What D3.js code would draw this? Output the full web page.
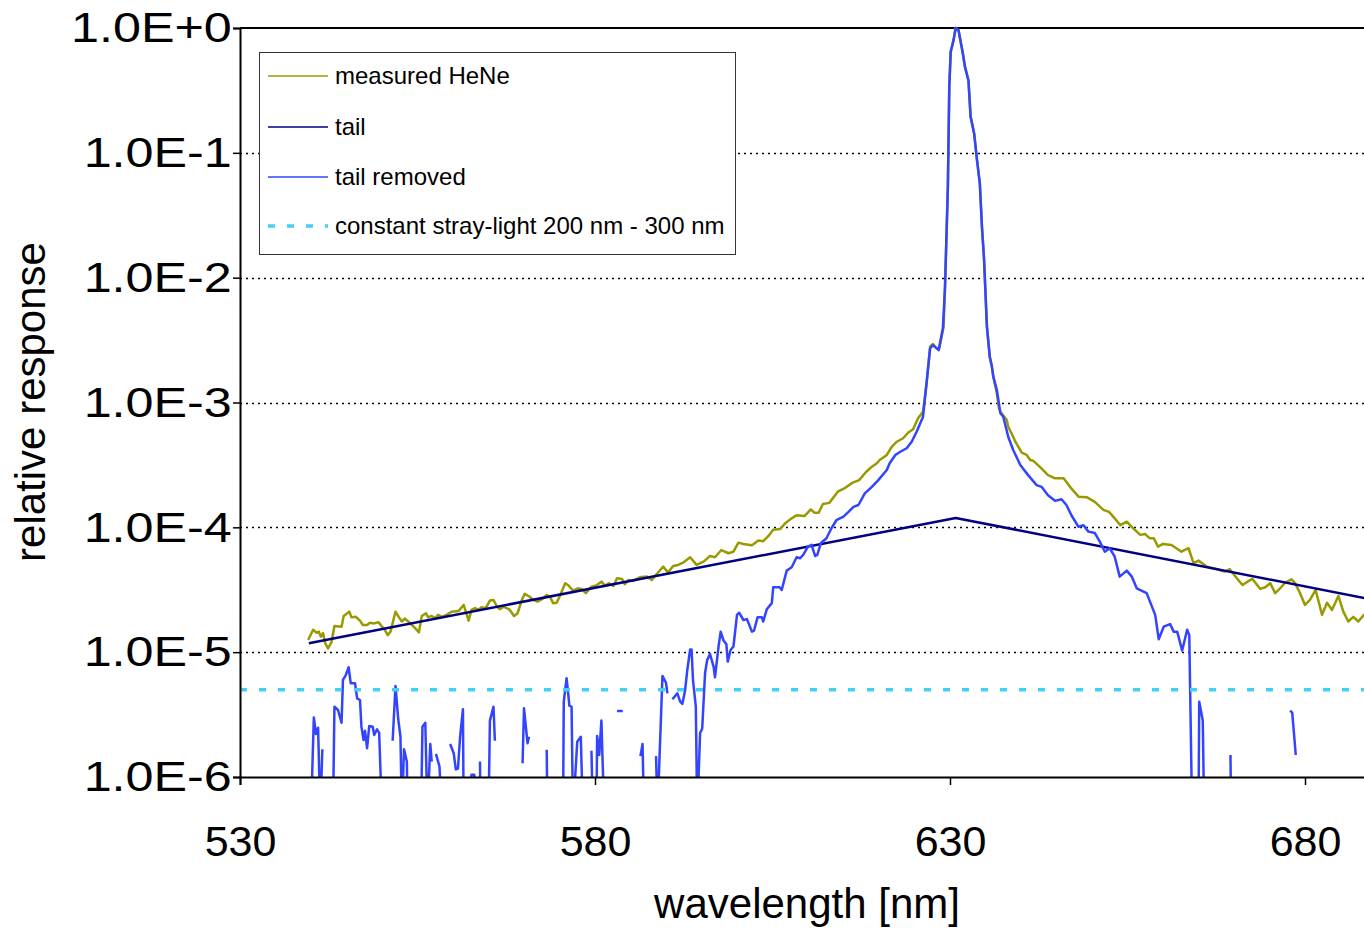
<!DOCTYPE html>
<html>
<head>
<meta charset="utf-8">
<script src="https://cdn.jsdelivr.net/npm/d3@7"></script>
<style>
    html, body { margin: 0; padding: 0; background: #fff; }
    svg { display: block; font-family: "Liberation Sans", Arial, sans-serif; }
</style>
</head>
<body>
<svg id="chart" width="1364" height="929"></svg>
<script>

    // measured HeNe line
    var heneWl = [
        539.6, 540.3, 540.8, 541.1, 541.4, 541.7, 542.0, 542.4, 542.9, 543.3, 544.3, 544.6, 545.4, 545.7, 546.3, 546.9,
        547.3, 547.9, 548.3, 548.9, 549.5, 550.0, 550.4, 550.8, 551.2, 551.9, 552.4, 552.8, 553.2, 553.9, 554.6, 555.2,
        555.6, 556.2, 556.5, 557.0, 557.5, 557.9, 558.4, 559.1, 559.8, 560.8, 561.5, 562.2, 562.6, 563.1, 563.6, 564.0,
        564.6, 565.2, 565.7, 566.2, 566.6, 567.1, 567.6, 568.0, 568.6, 569.1, 569.7, 570.1, 570.8, 571.3, 571.9, 572.6,
        573.2, 573.7, 574.1, 574.6, 575.0, 575.8, 576.2, 576.9, 577.6, 578.1, 578.7, 579.5, 580.2, 580.9, 581.4, 581.9,
        582.6, 583.1, 583.8, 584.2, 584.7, 585.4, 586.3, 587.3, 588.0, 588.7, 589.6, 590.3, 591.0, 591.7, 592.4, 593.4,
        594.3, 595.3, 596.2, 596.9, 597.8, 598.8, 599.5, 600.2, 600.9, 602.1, 603.0, 603.7, 604.4, 605.1, 606.1, 606.8,
        607.7, 608.4, 609.1, 609.5, 610.4, 610.9, 611.5, 612.1, 613.0, 614.2, 615.1, 616.3, 617.2, 618.2, 618.9, 619.7,
        620.1, 621.1, 621.8, 622.5, 623.4, 624.1, 624.8, 625.5, 626.2, 626.7, 627.2, 627.6, 628.1, 628.5, 629.1, 629.3,
        629.7, 629.9, 630.1, 630.5, 630.8, 631.2, 631.8, 632.1, 632.6, 632.9, 633.4, 633.8, 634.2, 634.5, 634.8, 635.2,
        635.6, 635.9, 636.1, 636.6, 636.9, 637.1, 638.0, 638.2, 638.9, 639.2, 639.9, 640.1, 640.8, 641.3, 641.7, 642.7,
        643.8, 644.8, 646.0, 646.9, 648.1, 649.3, 650.4, 651.6, 652.4, 653.2, 654.0, 654.9, 655.8, 656.8, 657.5, 658.1,
        658.7, 659.3, 660.0, 661.2, 662.6, 663.6, 664.3, 665.0, 666.2, 667.6, 668.7, 669.4, 670.4, 671.2, 671.9, 672.6,
        673.7, 674.4, 675.1, 675.8, 676.5, 677.2, 678.1, 678.6, 679.3, 680.0, 680.7, 681.5, 682.4, 683.1, 683.8, 684.7,
        685.4, 686.1, 686.8, 687.5, 688.3, 689.0
    ];
    var heneVal = [
        1.25e-5, 1.51e-5, 1.43e-5, 1.46e-5, 1.33e-5, 1.42e-5, 1.18e-5, 1.07e-5, 1.21e-5, 1.62e-5, 1.60e-5, 1.95e-5, 2.11e-5, 1.90e-5, 1.92e-5, 1.79e-5,
        1.65e-5, 1.65e-5, 1.72e-5, 1.70e-5, 1.74e-5, 1.60e-5, 1.51e-5, 1.37e-5, 1.46e-5, 2.11e-5, 1.90e-5, 1.76e-5, 1.86e-5, 1.72e-5, 1.57e-5, 1.44e-5,
        1.95e-5, 2.05e-5, 1.90e-5, 1.95e-5, 1.87e-5, 1.99e-5, 1.92e-5, 1.99e-5, 2.11e-5, 2.14e-5, 2.39e-5, 1.79e-5, 2.18e-5, 2.25e-5, 2.18e-5, 2.29e-5,
        2.25e-5, 2.59e-5, 2.62e-5, 2.31e-5, 2.21e-5, 2.31e-5, 2.25e-5, 2.18e-5, 1.95e-5, 2.05e-5, 2.62e-5, 2.93e-5, 2.78e-5, 2.62e-5, 2.54e-5, 2.67e-5,
        2.87e-5, 2.75e-5, 2.47e-5, 2.49e-5, 2.78e-5, 3.57e-5, 3.45e-5, 3.11e-5, 3.25e-5, 3.21e-5, 2.97e-5, 3.35e-5, 3.43e-5, 3.67e-5, 3.41e-5, 3.57e-5,
        3.39e-5, 3.91e-5, 3.86e-5, 3.50e-5, 3.79e-5, 3.74e-5, 3.98e-5, 4.03e-5, 3.79e-5, 4.23e-5, 4.84e-5, 4.34e-5, 4.90e-5, 5.00e-5, 5.21e-5, 5.76e-5,
        5.00e-5, 5.31e-5, 5.90e-5, 5.76e-5, 6.58e-5, 6.20e-5, 6.38e-5, 7.54e-5, 7.36e-5, 7.18e-5, 7.83e-5, 7.74e-5, 8.49e-5, 9.58e-5, 9.70e-5, 1.08e-4,
        1.18e-4, 1.25e-4, 1.24e-4, 1.23e-4, 1.39e-4, 1.31e-4, 1.31e-4, 1.54e-4, 1.57e-4, 1.93e-4, 2.05e-4, 2.28e-4, 2.39e-4, 2.79e-4, 3.03e-4, 3.26e-4,
        3.46e-4, 3.80e-4, 4.42e-4, 4.85e-4, 5.17e-4, 5.72e-4, 6.10e-4, 7.47e-4, 8.44e-4, 1.42e-3, 2.80e-3, 2.94e-3, 2.72e-3, 2.72e-3, 4.05e-3, 8.48e-3,
        5.36e-2, 0.339, 0.645, 0.80, 1.0, 0.96, 0.63, 0.49, 0.38, 0.195, 0.143, 8.77e-2, 5.70e-2, 2.56e-2, 1.39e-2, 4.05e-3,
        2.33e-3, 1.94e-3, 1.61e-3, 1.18e-3, 8.97e-4, 8.44e-4, 7.24e-4, 6.40e-4, 5.32e-4, 4.85e-4, 4.16e-4, 3.96e-4, 3.80e-4, 3.46e-4, 3.42e-4, 3.04e-4,
        2.62e-4, 2.47e-4, 2.47e-4, 2.11e-4, 1.76e-4, 1.74e-4, 1.60e-4, 1.38e-4, 1.33e-4, 1.18e-4, 1.04e-4, 1.11e-4, 9.83e-5, 8.70e-5, 8.84e-5, 8.18e-5,
        8.18e-5, 7.00e-5, 7.36e-5, 7.23e-5, 6.38e-5, 6.80e-5, 5.16e-5, 5.41e-5, 4.84e-5, 4.62e-5, 4.42e-5, 4.62e-5, 3.91e-5, 3.45e-5, 3.67e-5, 3.86e-5,
        3.21e-5, 3.31e-5, 3.57e-5, 2.97e-5, 3.25e-5, 3.60e-5, 3.84e-5, 3.57e-5, 2.97e-5, 2.39e-5, 2.62e-5, 3.15e-5, 1.99e-5, 2.49e-5, 2.18e-5, 2.82e-5,
        2.11e-5, 1.76e-5, 1.92e-5, 1.76e-5, 1.99e-5, 1.85e-5
    ];

    // fitted tail, straight in log space
    var tailWl  = [539.7, 630.8, 690];
    var tailVal = [1.18e-5, 1.19e-4, 2.6e-5];

    // tail removed; null = negative (not drawn), 5e-7 = below the axis
    var removedWl = [
        540.0, 540.4, 540.7, 541.0, 541.3, 541.6, 541.9, 543.1, 543.3, 543.8, 544.3, 544.5, 544.9, 545.3, 545.6, 546.2,
        546.5, 546.9, 547.1, 547.4, 547.6, 547.9, 548.2, 548.7, 548.9, 549.3, 549.6, 550.0, 550.5, 551.5, 551.9, 552.3,
        552.6, 552.8, 553.1, 553.5, 553.6, 554.0, 555.5, 555.7, 556.1, 556.4, 556.8, 557.0, 557.3, 557.6, 558.1, 558.4,
        558.8, 559.6, 560.1, 560.4, 560.7, 561.0, 561.4, 561.5, 562.0, 562.4, 562.6, 563.0, 563.2, 563.5, 563.8, 563.9,
        564.4, 565.0, 565.2, 565.7, 565.9, 566.5, 569.8, 570.0, 570.5, 570.7, 571.5, 573.2, 573.3, 574.0, 575.5, 575.6,
        576.0, 576.4, 576.7, 576.9, 577.5, 578.0, 578.3, 579.0, 579.5, 579.7, 580.0, 580.2, 580.3, 580.6, 580.9, 581.3,
        582.0, 583.1, 583.9, 584.5, 586.4, 586.7, 586.9, 587.5, 588.6, 588.8, 589.5, 590.0, 590.2, 590.7, 590.9, 591.6,
        592.0, 592.3, 592.7, 593.0, 593.4, 593.6, 593.8, 594.2, 594.4, 594.8, 595.1, 595.5, 595.8, 596.2, 596.7, 596.9,
        597.4, 597.7, 598.1, 598.5, 598.7, 599.1, 599.5, 600.0, 600.3, 600.9, 601.4, 602.1, 602.4, 602.9, 603.5, 603.7,
        604.2, 604.9, 605.1, 606.0, 606.3, 607.0, 607.7, 608.4, 608.9, 609.3, 610.0, 610.5, 611.0, 611.3, 611.8, 612.6,
        613.3, 614.0, 615.0, 615.7, 616.4, 617.1, 618.0, 619.0, 619.9, 621.1, 621.5, 622.3, 623.0, 623.9, 624.6, 625.3,
        626.2, 626.6, 627.2, 627.6, 628.4, 629.0, 629.3, 629.7, 629.9, 630.1, 630.5, 630.8, 631.2, 631.8, 632.1, 632.6,
        632.9, 633.4, 633.8, 634.2, 634.5, 634.8, 635.2, 635.6, 635.9, 636.1, 636.6, 637.1, 637.5, 638.2, 638.9, 639.9,
        641.0, 642.2, 642.9, 643.8, 644.8, 645.7, 646.4, 647.1, 648.1, 648.8, 649.5, 650.4, 651.1, 651.8, 652.5, 653.2,
        653.9, 654.9, 655.6, 656.3, 657.7, 658.9, 659.4, 660.1, 661.0, 661.5, 662.0, 662.7, 663.4, 663.7, 664.1, 665.0,
        665.1, 665.6, 665.8, 666.5, 669.5, 669.6, 670.0, 677.9, 678.2, 678.7
    ];
    var removedVal = [
        5e-7, 3.0e-6, 2.21e-6, 2.48e-6, 5e-7, 1.67e-6, null, 5e-7, 3.66e-6, 3.44e-6, 2.72e-6, 5.99e-6, 6.56e-6, 7.57e-6, 5.63e-6, 5.63e-6,
        4.27e-6, 4.14e-6, 2.53e-6, 1.98e-6, 2.35e-6, 1.70e-6, 2.56e-6, 2.53e-6, 2.17e-6, 2.41e-6, 2.26e-6, 5e-7, null, 1.95e-6, 5.36e-6, 2.86e-6,
        2.10e-6, 5e-7, 1.67e-6, 1.33e-6, 5e-7, null, 5e-7, 2.53e-6, 2.72e-6, 5e-7, 1.84e-6, 1.33e-6, null, 1.53e-6, 1.21e-6, 5e-7,
        null, 1.84e-6, 1.55e-6, 1.15e-6, 1.17e-6, 2.10e-6, 3.49e-6, 5e-7, null, 5e-7, 1.04e-6, 1.04e-6, 5e-7, null, 1.33e-6, 5e-7,
        null, 5e-7, 2.83e-6, 3.66e-6, 1.95e-6, null, 1.29e-6, 3.55e-6, 1.86e-6, 2.10e-6, null, 1.65e-6, 5e-7, null, 5e-7, 4.01e-6,
        6.18e-6, 3.71e-6, 3.66e-6, 5e-7, 1.92e-6, 2.10e-6, 5e-7, null, 1.62e-6, 5e-7, null, 5e-7, 2.13e-6, 1.50e-6, 2.83e-6, 5e-7,
        null, 3.38e-6, 3.38e-6, null, 1.47e-6, 1.84e-6, 5e-7, null, 1.47e-6, 5e-7, 6.45e-6, 5.69e-6, 4.68e-6, null, 4.20e-6, 4.68e-6,
        4.01e-6, 3.85e-6, 4.98e-6, 7.20e-6, 1.05e-5, 1.05e-5, 5.99e-6, 3.66e-6, 5e-7, 2.24e-6, 2.45e-6, 6.77e-6, 8.66e-6, 9.67e-6, 7.65e-6, 6.29e-6,
        1.11e-5, 1.46e-5, 1.24e-5, 1.16e-5, 8.40e-6, 1.04e-5, 1.11e-5, 1.99e-5, 2.07e-5, 1.81e-5, 1.84e-5, 1.46e-5, 1.49e-5, 1.90e-5, 1.90e-5, 1.76e-5,
        2.21e-5, 2.47e-5, 3.31e-5, 3.31e-5, 3.15e-5, 4.50e-5, 4.79e-5, 5.76e-5, 5.65e-5, 6.00e-5, 7.00e-5, 7.23e-5, 5.90e-5, 6.00e-5, 7.45e-5, 8.18e-5,
        9.83e-5, 1.14e-4, 1.22e-4, 1.33e-4, 1.46e-4, 1.51e-4, 1.87e-4, 2.11e-4, 2.39e-4, 2.88e-4, 3.26e-4, 3.80e-4, 4.03e-4, 4.30e-4, 4.85e-4, 5.83e-4,
        7.69e-4, 1.26e-3, 2.72e-3, 2.88e-3, 2.63e-3, 3.93e-3, 8.48e-3, 5.36e-2, 0.339, 0.645, 0.80, 1.0, 0.96, 0.63, 0.49, 0.38,
        0.195, 0.143, 8.77e-2, 5.70e-2, 2.56e-2, 1.39e-2, 4.05e-3, 2.33e-3, 1.94e-3, 1.61e-3, 1.26e-3, 8.19e-4, 7.69e-4, 5.32e-4, 4.16e-4, 3.16e-4,
        2.62e-4, 2.18e-4, 2.11e-4, 1.81e-4, 1.63e-4, 1.68e-4, 1.51e-4, 1.25e-4, 1.01e-4, 1.04e-4, 9.24e-5, 9.00e-5, 7.68e-5, 6.38e-5, 6.80e-5, 5.82e-5,
        4.03e-5, 4.50e-5, 4.03e-5, 3.25e-5, 2.97e-5, 1.99e-5, 1.27e-5, 1.60e-5, 1.68e-5, 1.46e-5, 1.46e-5, 1.03e-5, 1.51e-5, 1.37e-5, 5e-7, 5e-7,
        4.01e-6, 2.83e-6, 5e-7, null, 1.50e-6, 5e-7, null, 3.40e-6, 3.28e-6, 1.50e-6
    ];

    // constant stray-light level
    var strayWl  = [530, 690];
    var strayVal = [5e-6, 5e-6];

    var xTicks = [530, 580, 630, 680];
    var yTicks = [1e-6, 1e-5, 1e-4, 1e-3, 1e-2, 1e-1, 1];

    var names = ["measured HeNe", "tail", "tail removed", "constant stray-light 200 nm - 300 nm"];


    var svg = d3.select("#chart");

    var x = d3.scaleLinear().domain([530, 690]).range([240, 1376]),
        y = d3.scaleLog().domain([1e-6, 1]).range([777, 28]);

    // plot area edges (window.top is reserved, hence the prefix)
    var plotLeft = 240, plotRight = 1364, plotTop = 28, plotBottom = 777;

    function pairs (wl, val) {
        return wl.map(function (w, i) { return [w, val[i]]; });
    }

    var series = [
        { name: names[0], data: pairs(heneWl, heneVal),       color: "#999900", width: 2.5 },
        { name: names[1], data: pairs(tailWl, tailVal),       color: "#000080", width: 2.5 },
        { name: names[2], data: pairs(removedWl, removedVal), color: "#3344ff", width: 2.5 },
        { name: names[3], data: pairs(strayWl, strayVal),     color: "#45cff5", width: 3.5, dash: "7,12" }
    ];

    svg.append("defs")
        .append("clipPath")
        .attr("id", "plot")
        .append("rect")
        .attr("x", plotLeft)
        .attr("y", plotTop - 3)
        .attr("width", plotRight - plotLeft)
        .attr("height", plotBottom - plotTop + 3);

    // dotted gridlines
    svg.append("g")
        .selectAll("line")
        .data(yTicks.slice(1, -1))
        .enter()
        .append("line")
        .attr("x1", plotLeft)
        .attr("x2", plotRight)
        .attr("y1", function (d) { return Math.round(y(d)) + 0.5; })
        .attr("y2", function (d) { return Math.round(y(d)) + 0.5; })
        .attr("stroke", "#000")
        .attr("stroke-width", 1.5)
        .attr("stroke-dasharray", "2,4");

    // top border of the plot area
    svg.append("line")
        .attr("x1", plotLeft).attr("x2", plotRight)
        .attr("y1", y(1)).attr("y2", y(1))
        .attr("stroke", "#000")
        .attr("stroke-width", 2);

    var line = d3.line()
        .defined(function (d) { return d[1] != null; })
        .x(function (d) { return x(d[0]); })
        .y(function (d) { return y(d[1]); });

    svg.append("g")
        .attr("clip-path", "url(#plot)")
        .selectAll("path")
        .data(series)
        .enter()
        .append("path")
        .attr("d", function (s) { return line(s.data); })
        .attr("fill", "none")
        .attr("stroke", function (s) { return s.color; })
        .attr("stroke-width", function (s) { return s.width; })
        .attr("stroke-dasharray", function (s) { return s.dash || null; })
        .attr("stroke-linejoin", "round");

    // axes
    var fmt = function (d) { return d3.format(".1e")(d).toUpperCase(); };

    var yAxis = svg.append("g")
        .attr("transform", "translate(" + plotLeft + ",0)")
        .call(d3.axisLeft(y).tickValues(yTicks).tickFormat(fmt).tickSize(7).tickPadding(0));

    yAxis.selectAll("text")
        .attr("font-size", 43)
        .attr("fill", "#000")
        .attr("font-family", "Liberation Sans, Arial, sans-serif")
        .attr("transform", "scale(1.17,1)");

    var xAxis = svg.append("g")
        .attr("transform", "translate(0," + plotBottom + ")")
        .call(d3.axisBottom(x).tickValues(xTicks).tickFormat(d3.format("d")).tickSize(8).tickPadding(40));

    xAxis.selectAll("text")
        .attr("font-size", 43)
        .attr("fill", "#000")
        .attr("font-family", "Liberation Sans, Arial, sans-serif");

    svg.selectAll(".domain").attr("stroke", "#000").attr("stroke-width", 2);
    svg.selectAll(".tick line").attr("stroke", "#000").attr("stroke-width", 1.5);

    // titles
    svg.append("text")
        .attr("transform", "translate(45,402) rotate(-90)")
        .attr("text-anchor", "middle")
        .attr("font-size", 42)
        .text("relative response");

    svg.append("text")
        .attr("x", 807)
        .attr("y", 918)
        .attr("text-anchor", "middle")
        .attr("font-size", 42)
        .text("wavelength [nm]");

    // legend
    var legend = svg.append("g");

    legend.append("rect")
        .attr("x", 259.5)
        .attr("y", 52.5)
        .attr("width", 476)
        .attr("height", 202)
        .attr("fill", "#fff")
        .attr("stroke", "#333")
        .attr("stroke-width", 1);

    var rows = legend.selectAll("g.row")
        .data(series)
        .enter()
        .append("g")
        .attr("class", "row")
        .attr("transform", function (s, i) { return "translate(0," + [76, 127, 177, 226][i] + ")"; });

    rows.append("line")
        .attr("x1", 268)
        .attr("x2", 328)
        .attr("stroke", function (s) { return s.color; })
        .attr("stroke-width", function (s) { return s.dash ? 3.5 : 1.5; })
        .attr("stroke-dasharray", function (s) { return s.dash || null; });

    rows.append("text")
        .attr("x", 335)
        .attr("y", 8)
        .attr("font-size", 24)
        .text(function (s) { return s.name; });

</script>
</body>
</html>
